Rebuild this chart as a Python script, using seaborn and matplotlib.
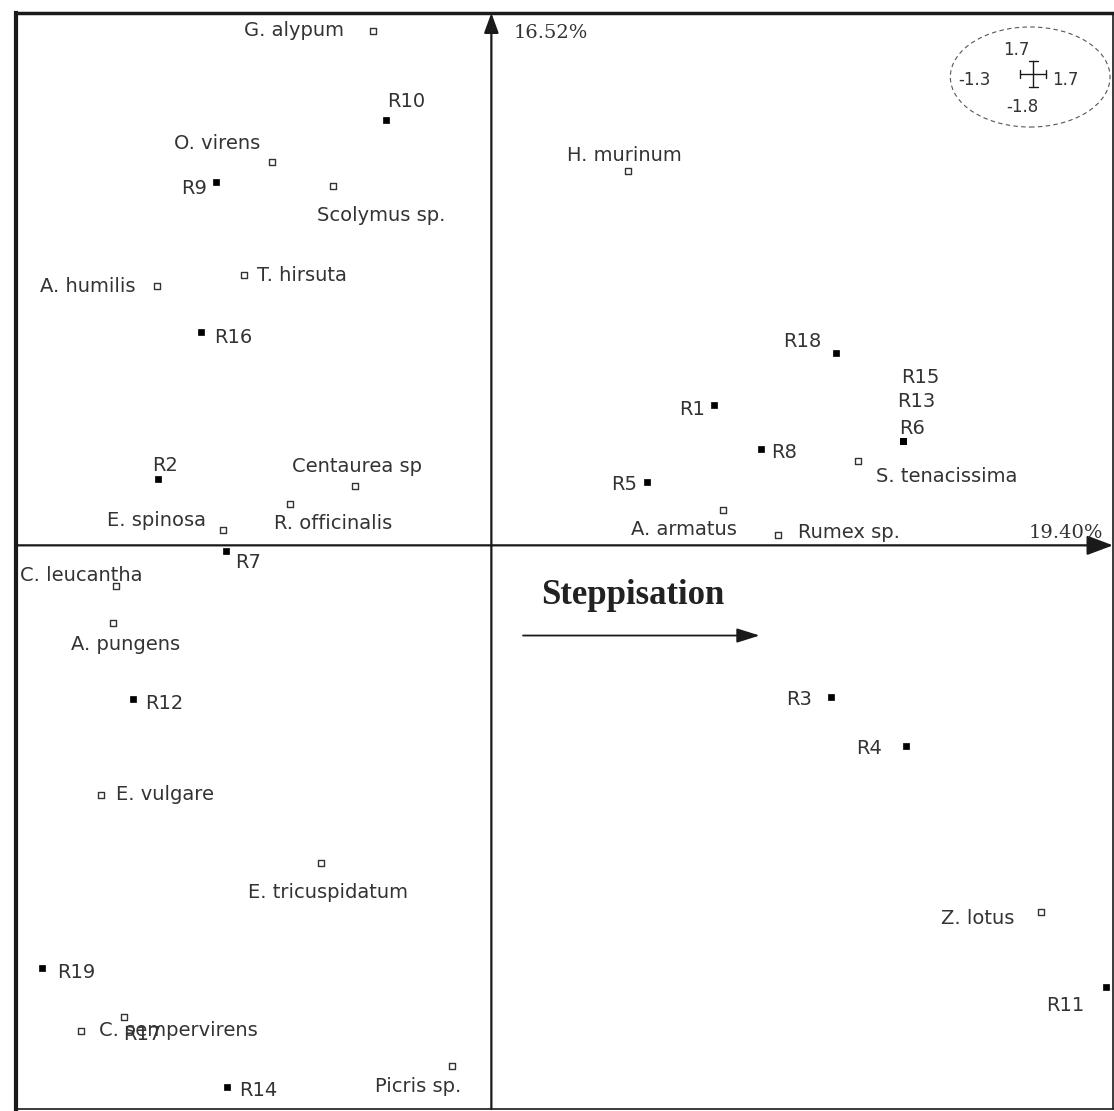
import pandas as pd
import seaborn as sns
import matplotlib.pyplot as plt
from matplotlib.patches import Ellipse

# extent of the first two ordination axes
X_LIM = (-1.3, 1.7)
Y_LIM = (-1.8, 1.7)
AXIS1_LABEL = "19.40%"
AXIS2_LABEL = "16.52%"
TREND_LABEL = "Steppisation"

# species (open squares)
species_names = ["G. alypum", "O. virens", "Scolymus sp.", "T. hirsuta", "A. humilis",
                 "Centaurea sp", "R. officinalis", "E. spinosa", "C. leucantha", "A. pungens",
                 "E. vulgare", "E. tricuspidatum", "C. sempervirens", "Picris sp.", "H. murinum",
                 "A. armatus", "Rumex sp.", "S. tenacissima", "Z. lotus"]
species_x = [-0.325, -0.601, -0.434, -0.677, -0.915, -0.374, -0.551, -0.734, -1.026, -1.035,
             -1.067, -0.467, -1.122, -0.109, 0.374, 0.633, 0.784, 1.002, 1.502]
species_y = [1.643, 1.224, 1.147, 0.863, 0.828, 0.189, 0.131, 0.048, -0.131, -0.249,
             -0.796, -1.013, -1.550, -1.662, 1.195, 0.112, 0.032, 0.268, -1.170]

# releves (filled squares)
site_names = ["R10", "R9", "R16", "R2", "R7", "R12", "R19", "R14", "R17", "R18",
              "R1", "R8", "R5", "R6", "R13", "R15", "R3", "R4", "R11"]
site_x = [-0.289, -0.753, -0.794, -0.912, -0.726, -0.980, -1.228, -0.723, -1.005, 0.942,
          0.609, 0.737, 0.426, 1.127, 1.127, 1.127, 0.928, 1.133, 1.682]
site_y = [1.358, 1.160, 0.681, 0.211, -0.019, -0.492, -1.349, -1.729, -1.505, 0.614,
          0.447, 0.307, 0.201, 0.332, 0.332, 0.332, -0.483, -0.642, -1.409]
hollow_sites = ["R17"]

# label placement: (ha, dx px, dy px) relative to the marker
LABEL_POS = {
    "G. alypum": ("right", -29, 0), "O. virens": ("right", -11, 19),
    "Scolymus sp.": ("left", -16, -29), "T. hirsuta": ("left", 13, 0),
    "A. humilis": ("right", -21, 0), "Centaurea sp": ("center", 2, 20),
    "R. officinalis": ("left", -16, -19), "E. spinosa": ("right", -17, 10),
    "C. leucantha": ("left", -96, 11), "A. pungens": ("center", 13, -21),
    "E. vulgare": ("left", 15, 0), "E. tricuspidatum": ("center", 7, -30),
    "C. sempervirens": ("left", 18, 0), "Picris sp.": ("right", 10, -21),
    "H. murinum": ("center", -4, 16), "A. armatus": ("center", -39, -19),
    "Rumex sp.": ("left", 20, 3), "S. tenacissima": ("left", 18, -15),
    "Z. lotus": ("right", -26, -7),
    "R10": ("left", 1, 19), "R9": ("right", -9, -6), "R16": ("left", 13, -5),
    "R2": ("left", -6, 14), "R7": ("left", 9, -11), "R12": ("left", 12, -4),
    "R19": ("left", 15, -5), "R14": ("left", 12, -4), "R17": ("left", -1, -18),
    "R18": ("right", -14, 12), "R1": ("right", -9, -4), "R8": ("left", 10, -3),
    "R5": ("right", -10, -2), "R6": ("left", -4, 13), "R13": ("left", -6, 40),
    "R15": ("left", -2, 64), "R3": ("right", -19, -3), "R4": ("right", -24, -2),
    "R11": ("right", -22, -19),
}

TEXT_COL = "#333333"
LINE_COL = "#1a1a1a"

sns.set_style("white")
plt.rcParams["font.family"] = ["DejaVu Sans"]

species = pd.DataFrame({"name": species_names, "x": species_x, "y": species_y})
sites = pd.DataFrame({"name": site_names, "x": site_x, "y": site_y})
sites["hollow"] = sites["name"].isin(hollow_sites)

fig = plt.figure(figsize=(11.14, 11.11), dpi=100)
ax = fig.add_axes([16 / 1114, 2 / 1111, 1097 / 1114, 1096 / 1111])

sns.scatterplot(data=species, x="x", y="y", marker="s", s=22, facecolor="white",
                edgecolor=TEXT_COL, linewidth=1.0, ax=ax, zorder=4)
sns.scatterplot(data=sites[~sites["hollow"]], x="x", y="y", marker="s", s=22,
                color="black", edgecolor="black", linewidth=0.5, ax=ax, zorder=4)
sns.scatterplot(data=sites[sites["hollow"]], x="x", y="y", marker="s", s=22,
                facecolor="white", edgecolor=TEXT_COL, linewidth=1.0, ax=ax, zorder=4)

for df in (species, sites):
    for name, x, y in zip(df["name"], df["x"], df["y"]):
        ha, dx, dy = LABEL_POS[name]
        ax.annotate(name, (x, y), xytext=(dx, dy), textcoords="offset pixels",
                    ha=ha, va="center", fontsize=14, color=TEXT_COL, zorder=5)

ax.set_xlim(X_LIM)
ax.set_ylim(Y_LIM)
ax.set_xticks([])
ax.set_yticks([])
ax.set_xlabel("")
ax.set_ylabel("")
for side, lw in [("top", 2.5), ("left", 3.0), ("right", 1.2), ("bottom", 1.2)]:
    ax.spines[side].set_linewidth(lw)
    ax.spines[side].set_color(LINE_COL)

# ordination axes with arrow heads
ax.annotate("", xy=(0, Y_LIM[1]), xytext=(0, Y_LIM[0]),
            arrowprops=dict(arrowstyle="-|>,head_length=0.6,head_width=0.22", mutation_scale=20,
                            color=LINE_COL, lw=1.6, shrinkA=0, shrinkB=0), annotation_clip=False)
ax.annotate("", xy=(X_LIM[1], 0), xytext=(X_LIM[0], 0),
            arrowprops=dict(arrowstyle="-|>,head_length=0.8,head_width=0.3", mutation_scale=20,
                            color=LINE_COL, lw=1.6, shrinkA=0, shrinkB=0), annotation_clip=False)
ax.text(0.454, 0.9817, AXIS2_LABEL, transform=ax.transAxes, ha="left", va="center",
        family="DejaVu Serif", fontsize=14, color=TEXT_COL)
ax.text(0.9909, 0.5251, AXIS1_LABEL, transform=ax.transAxes, ha="right", va="center",
        family="DejaVu Serif", fontsize=14, color=TEXT_COL)

# steppisation trend
ax.text(0.5623, 0.4685, TREND_LABEL, transform=ax.transAxes, ha="center", va="center",
        family="Liberation Serif", fontweight="bold", fontsize=25, color="#222222")
ax.annotate("", xy=(0.6779, 0.432), xytext=(0.4622, 0.432), xycoords="axes fraction",
            arrowprops=dict(arrowstyle="-|>,head_length=0.7,head_width=0.22", mutation_scale=20,
                            color=LINE_COL, lw=1.3, shrinkA=0, shrinkB=0))

# scale key in the corner
cx, cy = 0.9245, 0.9416
ax.add_patch(Ellipse((cx, cy), 0.1456, 0.0913, transform=ax.transAxes, fill=False,
                     ls=(0, (4, 3)), lw=0.8, ec="#555555", zorder=3))
hx, hy = 0.9273, 0.9443
ax.plot([hx - 0.0118, hx + 0.0118], [hy, hy], transform=ax.transAxes, color=LINE_COL, lw=1)
ax.plot([hx, hx], [hy - 0.0119, hy + 0.0119], transform=ax.transAxes, color=LINE_COL, lw=1)
for ex in (hx - 0.0118, hx + 0.0118):
    ax.plot([ex, ex], [hy - 0.004, hy + 0.004], transform=ax.transAxes, color=LINE_COL, lw=1)
for ey in (hy - 0.0119, hy + 0.0119):
    ax.plot([hx - 0.004, hx + 0.004], [ey, ey], transform=ax.transAxes, color=LINE_COL, lw=1)
key_font = dict(transform=ax.transAxes, va="center", fontsize=12, color=TEXT_COL)
ax.text(0.9118, 0.9662, f"{Y_LIM[1]:.1f}", ha="center", **key_font)
ax.text(0.8735, 0.9388, f"{X_LIM[0]:.1f}", ha="center", **key_font)
ax.text(0.9445, 0.9388, f"{X_LIM[1]:.1f}", ha="left", **key_font)
ax.text(0.9173, 0.9141, f"{Y_LIM[0]:.1f}", ha="center", **key_font)

fig.savefig("out.png", dpi=100, facecolor="white")
